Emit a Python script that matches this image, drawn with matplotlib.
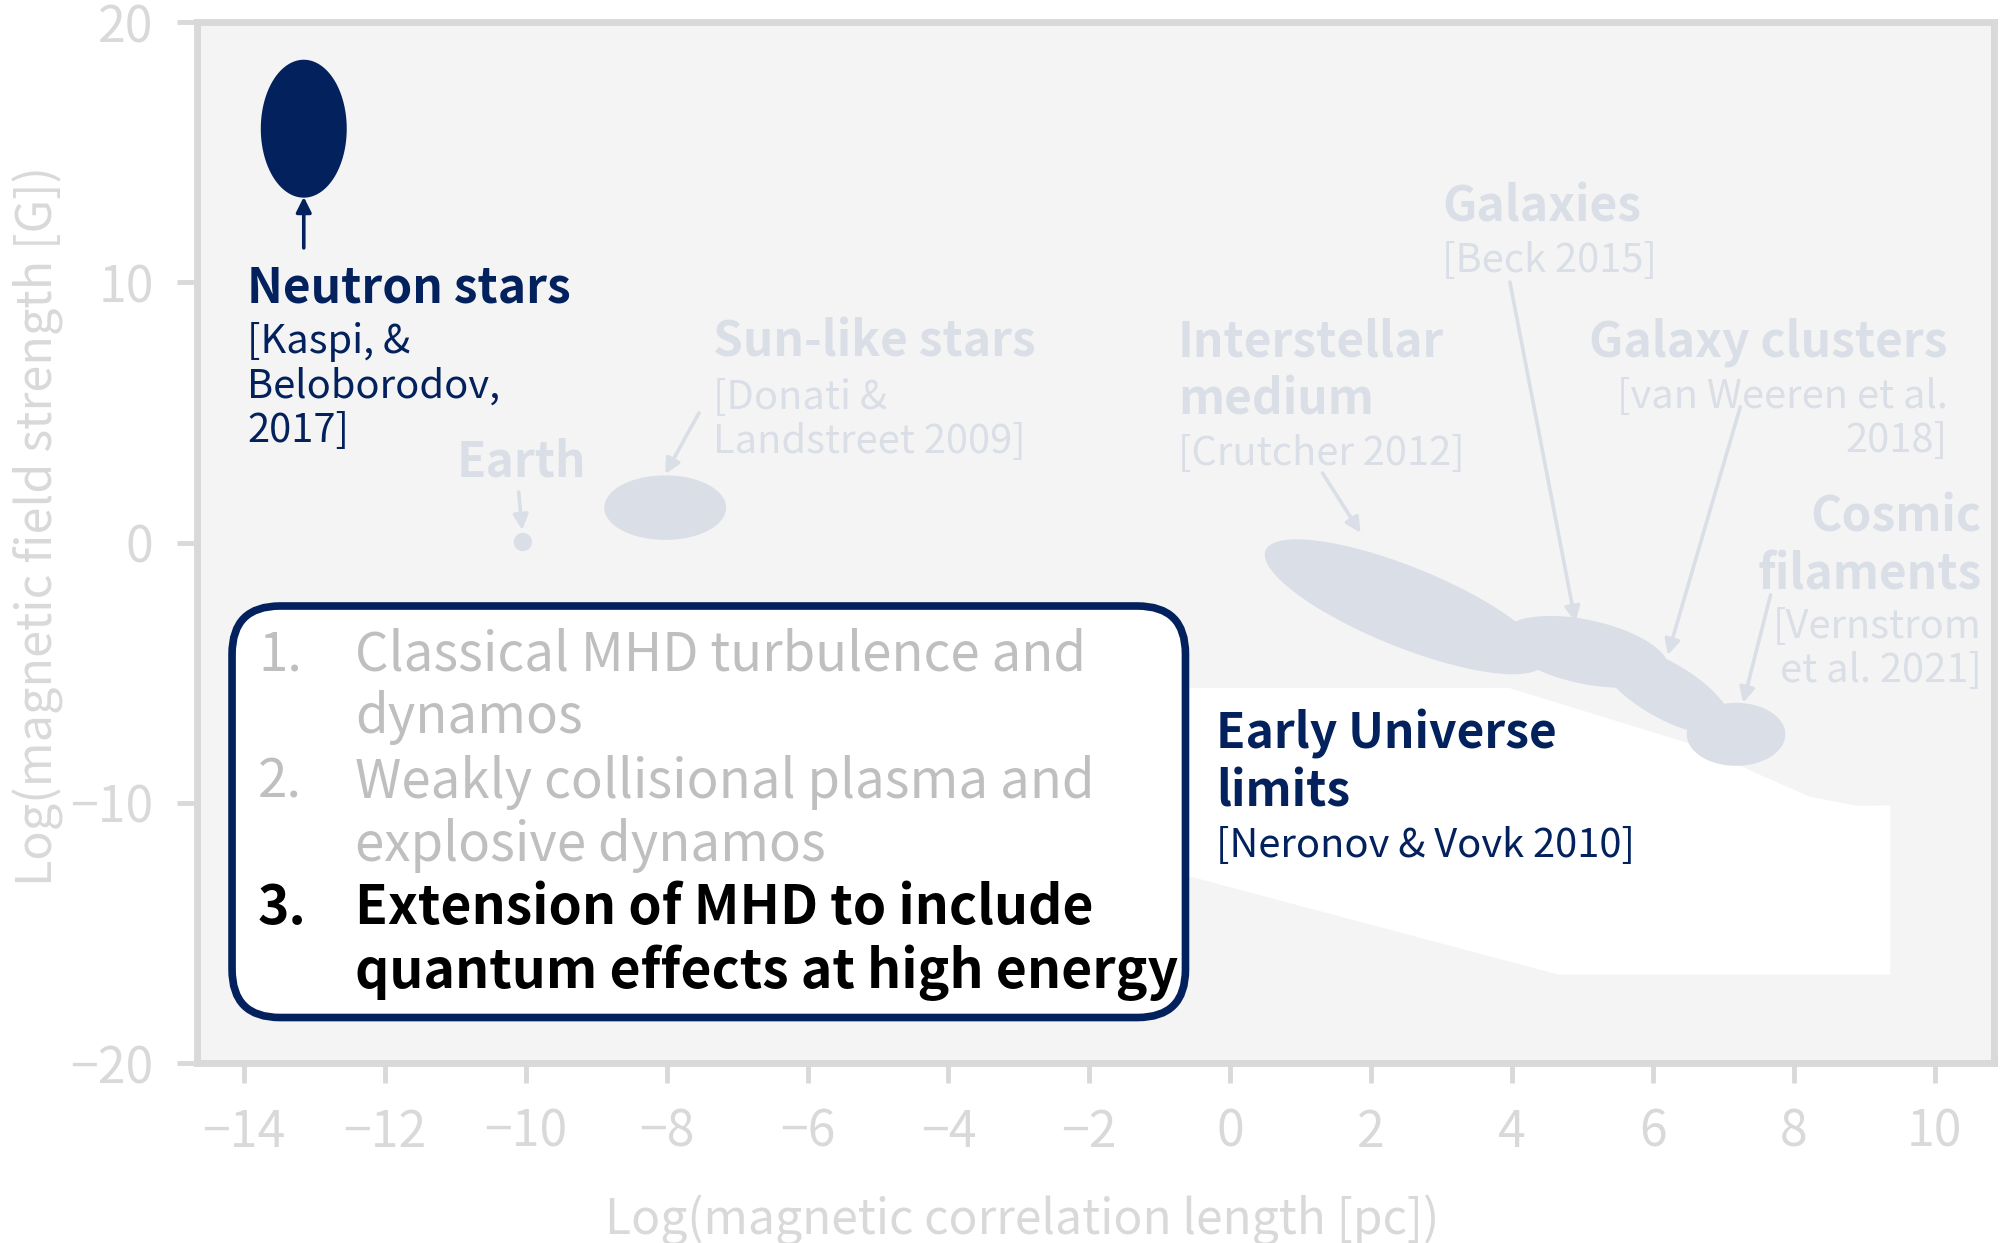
import numpy as np
import matplotlib.pyplot as plt
from matplotlib.patches import FancyBboxPatch

plt.rcParams['font.family'] = ['Noto Sans CJK KR', 'DejaVu Sans']

NAVY = '#03215c'
LIGHT = '#dadee6'
FRAME = '#d9d9d9'

# magnetised objects: centre (log pc, log G), half width, tilt of right end, half height
obj_names = ['Neutron stars', 'Earth', 'Sun-like stars', 'Interstellar medium',
             'Galaxies', 'Galaxy clusters', 'Cosmic filaments']
obj_x = [-13.15, -10.04, -8.02, 2.48, 5.04, 6.17, 7.18]
obj_y = [15.9, 0.02, 1.34, -2.47, -4.20, -5.66, -7.37]
obj_hx = [0.61, 0.13, 0.865, 1.99, 1.18, 0.94, 0.70]
obj_tilt = [0.0, 0.0, 0.0, -2.0, -0.58, -1.21, 0.0]
obj_hy = [2.65, 0.35, 1.24, 1.65, 1.25, 1.21, 1.21]
obj_colors = [NAVY] + [LIGHT] * 6

# early universe limits region
eu_x = [-1.5, 3.96, 6.67, 7.52, 8.23, 8.90, 9.37, 9.37, 4.67, -0.55, -1.5]
eu_y = [-5.59, -5.59, -7.85, -8.93, -9.77, -10.12, -10.1, -16.61, -16.61, -12.85, -12.17]

# label arrows (from text to object)
arrow_from = [(-13.15, 11.32), (-10.1, 1.94), (-7.54, 4.98), (1.31, 2.67),
              (3.97, 10.01), (7.24, 5.21), (7.67, -2.01)]
arrow_to = [(-13.15, 13.28), (-10.05, 0.48), (-8.02, 2.63), (1.85, 0.37),
            (4.90, -3.05), (6.21, -4.32), (7.28, -6.16)]

# headings and references: text, ref, x, heading baseline, ref baseline, align, colour
labels = [
    ('Neutron stars', '[Kaspi, &\nBeloborodov,\n2017]', -13.95, 9.24, 7.28, 'left', NAVY),
    ('Earth', '', -10.06, 2.53, 0, 'center', LIGHT),
    ('Sun-like stars', '[Donati &\nLandstreet 2009]', -7.34, 7.13, 5.13, 'left', LIGHT),
    ('Interstellar\nmedium', '[Crutcher 2012]', -0.74, 7.13, 2.98, 'left', LIGHT),
    ('Galaxies', '[Beck 2015]', 3.01, 12.32, 10.40, 'left', LIGHT),
    ('Galaxy clusters', '[van Weeren et al.\n2018]', 10.18, 7.13, 5.17, 'right', LIGHT),
    ('Cosmic\nfilaments', '[Vernstrom\net al. 2021]', 10.67, 0.41, -3.67, 'right', LIGHT),
    ('Early Universe\nlimits', '[Neronov & Vovk 2010]', -0.20, -7.93, -12.08, 'left', NAVY),
]

box_nums = ['1.', '', '2.', '', '3.', '']
box_lines = ['Classical MHD turbulence and', 'dynamos',
             'Weakly collisional plasma and', 'explosive dynamos',
             'Extension of MHD to include', 'quantum effects at high energy']
box_y = [-4.92, -7.32, -9.80, -12.24, -14.66, -17.12]

xticks = list(range(-14, 11, 2))
yticks = [-20, -10, 0, 10, 20]

fig = plt.figure(figsize=(20.1, 12.43), dpi=100)
ax = fig.add_axes([0.0982, 0.1448, 0.8938, 0.8375])
ax.set_facecolor('#f4f4f4')
ax.set_xlim(-14.66, 10.84)
ax.set_ylim(-20, 20)


def put(x, y, text, step, **kw):
    # one text object per line so each baseline sits where it should
    for i, line in enumerate(text.split('\n')):
        ax.text(x, y - i * step, line, va='baseline', **kw)


ax.fill(eu_x, eu_y, color='white', lw=0, zorder=1)

t = np.linspace(0, 2 * np.pi, 200)
for x, y, hx, tl, hy, c in zip(obj_x, obj_y, obj_hx, obj_tilt, obj_hy, obj_colors):
    ax.fill(x + hx * np.cos(t), y + tl * np.cos(t) + hy * np.sin(t), color=c, lw=0, zorder=2)

for (x0, y0), (x1, y1), c in zip(arrow_from, arrow_to, obj_colors):
    ax.annotate('', xy=(x1, y1), xytext=(x0, y0), zorder=3,
                arrowprops=dict(arrowstyle='-|>,head_length=0.5,head_width=0.25',
                                color=c, lw=2.6, shrinkA=0, shrinkB=0, mutation_scale=18))

for head, ref, x, yh, yr, ha, c in labels:
    put(x, yh, head, 2.23, ha=ha, fontsize=34.5, fontweight='bold', color=c, zorder=4)
    if ref:
        put(x, yr, ref, 1.70, ha=ha, fontsize=28.7, color=c, zorder=4)

box = FancyBboxPatch((0.0193, 0.0437), 0.5307, 0.3953, transform=ax.transAxes,
                     boxstyle='round,pad=0,rounding_size=0.0267', mutation_aspect=1.726,
                     fc='white', ec=NAVY, lw=5.5, zorder=5)
ax.add_patch(box)
for i, (n, s, y) in enumerate(zip(box_nums, box_lines, box_y)):
    bold = i >= 4
    c = 'black' if bold else '#bfbfbf'
    w = 'bold' if bold else 'normal'
    fs = 38.5 if bold else 38
    if n:
        ax.text(-13.8, y, n, fontsize=fs, color=c, fontweight=w, va='baseline', zorder=6)
    ax.text(-12.42, y, s, fontsize=fs, color=c, fontweight=w, va='baseline', zorder=6)

for sp in ax.spines.values():
    sp.set_color(FRAME)
    sp.set_linewidth(5)
ax.set_xticks(xticks)
ax.set_yticks(yticks)
ax.tick_params(length=14.5, width=3.5, color=FRAME, labelcolor=FRAME,
               labelsize=36, pad=17)
ax.yaxis.get_major_ticks()[1].tick1line.set_color('black')

fig.text(1022 / 2010, 0.0185, 'Log(magnetic correlation length [pc])', ha='center',
         va='center', fontsize=34.5, color=FRAME)
fig.text(38 / 2010, 1 - 526 / 1243, 'Log(magnetic field strength [G])', ha='center',
         va='center', rotation=90, fontsize=35, color=FRAME)

fig.savefig('out.png', dpi=100, facecolor='white')
